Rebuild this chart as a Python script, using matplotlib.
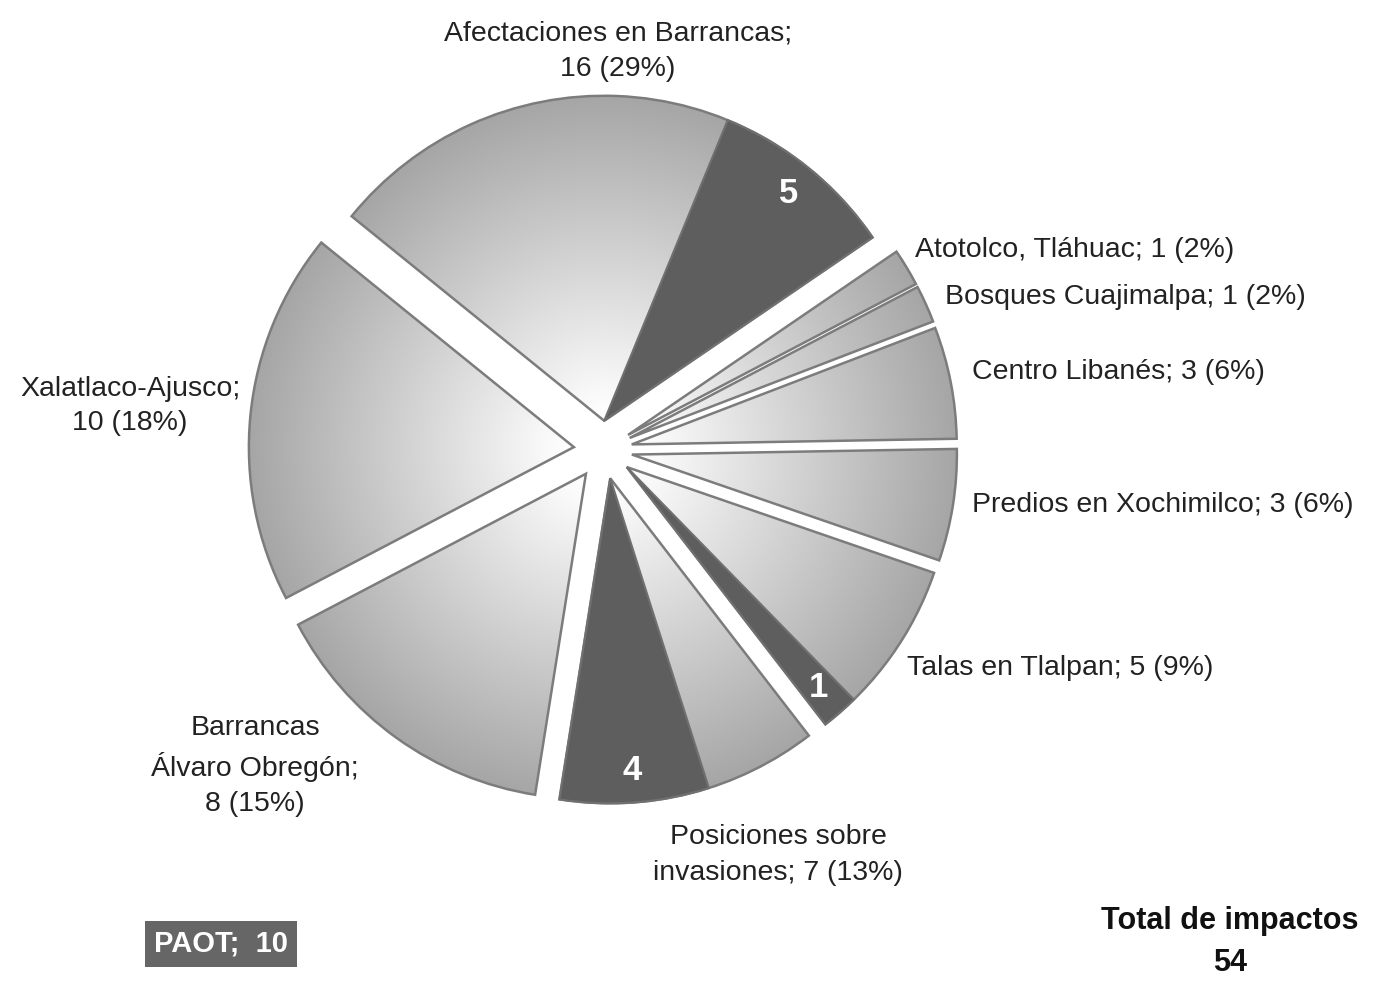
import numpy as np
import matplotlib
matplotlib.use("Agg")
import matplotlib.pyplot as plt
from matplotlib.patches import Wedge
from matplotlib.colors import LinearSegmentedColormap

# ---- data ----
categories = ["Afectaciones en Barrancas", "Atotolco, Tláhuac", "Bosques Cuajimalpa",
              "Centro Libanés", "Predios en Xochimilco", "Talas en Tlalpan",
              "Posiciones sobre invasiones", "Barrancas Álvaro Obregón", "Xalatlaco-Ajusco"]
values = [16, 1, 1, 3, 3, 5, 7, 8, 10]
paot = [5, 0, 0, 0, 0, 1, 4, 0, 0]
label_texts = ["Afectaciones en Barrancas;\n16 (29%)", "Atotolco, Tláhuac; 1 (2%)",
               "Bosques Cuajimalpa; 1 (2%)", "Centro Libanés; 3 (6%)",
               "Predios en Xochimilco; 3 (6%)", "Talas en Tlalpan; 5 (9%)",
               "Posiciones sobre\ninvasiones; 7 (13%)", "Barrancas\nÁlvaro Obregón;\n8 (15%)",
               "Xalatlaco-Ajusco;\n10 (18%)"]
paot_total = 10
total = 54

W, H = 1377, 981
fig = plt.figure(figsize=(W / 100, H / 100), dpi=100)
ax = fig.add_axes([0, 0, 1, 1])

FONT = ["Liberation Sans Narrow", "Liberation Sans", "DejaVu Sans"]

def Y(y):
    return H - y

cx, cy, R = 603, Y(450), 325
expl = 0.09 * R

wedges, _ = ax.pie(values, center=(cx, cy), radius=R, startangle=141, counterclock=False,
                   explode=[expl] * len(values),
                   wedgeprops=dict(facecolor="none", edgecolor="#7c7c7c", linewidth=1.8))

cmap = LinearSegmentedColormap.from_list("g", [(0, "#ffffff"), (0.08, "#fafafa"),
                                                (1.0, "#a6a6a6")])
n = 400
for w in wedges:
    wx, wy = w.center
    xs = np.linspace(wx - R, wx + R, n)
    ys = np.linspace(wy - R, wy + R, n)
    XX, YY = np.meshgrid(xs, ys)
    rr = np.clip(np.hypot(XX - wx, YY - wy) / R, 0, 1)
    im = ax.imshow(rr, cmap=cmap, vmin=0, vmax=1, extent=(wx - R, wx + R, wy - R, wy + R),
                   origin="lower", zorder=0.5, interpolation="bilinear")
    im.set_clip_path(w)
    w.set_zorder(1)

# dark PAOT sub-slices at the clockwise end of each parent slice
for w, v, p in zip(wedges, values, paot):
    if p > 0:
        t1 = w.theta1
        t2 = t1 + (w.theta2 - w.theta1) * p / v
        dw = Wedge(w.center, R, t1, t2, facecolor="#5e5e5e", edgecolor="#707070",
                   linewidth=1.5, zorder=2)
        ax.add_patch(dw)
        tm = np.deg2rad((t1 + t2) / 2)
        rlab = 0.9 * R
        ax.text(w.center[0] + rlab * np.cos(tm), w.center[1] + rlab * np.sin(tm), str(p),
                color="white", fontsize=25, fontweight="bold", family=FONT,
                ha="center", va="center", zorder=3)

ax.set_xlim(0, W)
ax.set_ylim(0, H)
ax.set_aspect("equal")
ax.axis("off")

fs = 20.5
lab_pos = [(618, 51, "center"), (915, 250, "left"), (945, 297, "left"),
           (972, 372, "left"), (972, 505, "left"), (907, 668, "left"),
           (778, 855, "center"), (255, 766, "center"), (130, 406, "center")]
for txt, (x, y, ha) in zip(label_texts, lab_pos):
    ax.text(x, Y(y), txt, fontsize=fs, family=FONT, ha=ha, va="center",
            color="#222222", linespacing=1.45)

ax.text(221, Y(944), f"PAOT;  {paot_total}", fontsize=21, family=FONT, color="white",
        fontweight="bold", ha="center", va="center",
        bbox=dict(boxstyle="square,pad=0.3", facecolor="#666666", edgecolor="none"))
ax.text(1230, Y(942), f"Total de impactos\n{total}", fontsize=22, family=FONT,
        fontweight="bold", ha="center", va="center", color="#111111", linespacing=1.5)

fig.savefig("out.png", dpi=100, facecolor="white")
